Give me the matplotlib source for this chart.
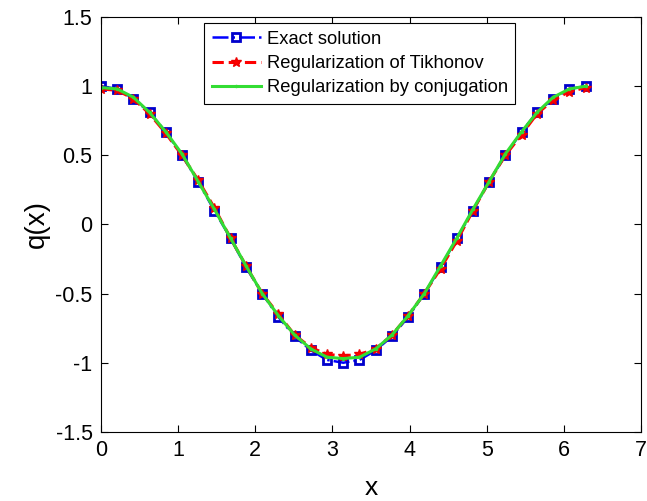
import matplotlib
matplotlib.use("Agg")
import matplotlib.pyplot as plt

plt.rcParams['font.family'] = ['Liberation Sans', 'DejaVu Sans']

x = [0.00, 0.21, 0.42, 0.63, 0.84, 1.05, 1.26, 1.47, 1.68, 1.88, 2.09, 2.30, 2.51, 2.72, 2.93,
     3.14, 3.35, 3.56, 3.77, 3.98, 4.19, 4.40, 4.61, 4.82, 5.03, 5.24, 5.45, 5.65, 5.86, 6.07, 6.28]
exact = [1.00, 0.98, 0.91, 0.81, 0.67, 0.50, 0.31, 0.10, -0.10, -0.31, -0.50, -0.67, -0.81, -0.91, -0.98,
         -1.00, -0.98, -0.91, -0.81, -0.67, -0.50, -0.31, -0.10, 0.10, 0.31, 0.50, 0.67, 0.81, 0.91, 0.98, 1.00]
tikhonov = [0.98, 0.97, 0.91, 0.80, 0.66, 0.50, 0.32, 0.12, -0.10, -0.30, -0.50, -0.65, -0.80, -0.89, -0.94,
            -0.95, -0.94, -0.90, -0.80, -0.66, -0.50, -0.32, -0.12, 0.10, 0.31, 0.50, 0.65, 0.80, 0.90, 0.96, 0.99]
conjugation = [0.99, 0.98, 0.92, 0.81, 0.67, 0.51, 0.31, 0.11, -0.10, -0.30, -0.50, -0.66, -0.80, -0.90, -0.96,
               -0.97, -0.96, -0.90, -0.80, -0.66, -0.50, -0.30, -0.10, 0.11, 0.31, 0.51, 0.67, 0.81, 0.92, 0.98, 1.00]

fig = plt.figure(figsize=(6.47, 5.01), dpi=100)
ax = fig.add_axes([0.156, 0.138, 0.835, 0.828])

ax.plot(x, exact, color='#0000ff', linestyle='-.', linewidth=1.8, marker='s', markersize=5.5,
        markerfacecolor='none', markeredgecolor='#0000cc', markeredgewidth=2, label='Exact solution')
ax.plot(x, tikhonov, color='#ff0000', linestyle='--', linewidth=2.2, marker='*', markersize=7,
        markeredgecolor='#ee0000', label='Regularization of Tikhonov')
ax.plot(x, conjugation, color='#33dd33', linestyle='-', linewidth=2.2, marker='.', markersize=3,
        label='Regularization by conjugation')

ax.set_xlim(0, 7)
ax.set_ylim(-1.5, 1.5)
ax.set_xticks([0, 1, 2, 3, 4, 5, 6, 7])
ax.set_yticks([-1.5, -1, -0.5, 0, 0.5, 1, 1.5])
ax.set_yticklabels(['-1.5', '-1', '-0.5', '0', '0.5', '1', '1.5'])
ax.tick_params(direction='in', length=5, labelsize=15.5, top=True, right=True)
ax.tick_params(axis='x', pad=6)
ax.tick_params(axis='y', pad=6)
for s in ax.spines.values():
    s.set_linewidth(0.8)
ax.set_xlabel('x', fontsize=19, labelpad=11)
ax.set_ylabel('q(x)', fontsize=20, labelpad=4)

leg = ax.legend(loc='upper center', bbox_to_anchor=(0.479, 0.9855), fontsize=13.2, frameon=True,
                fancybox=False, edgecolor='black', framealpha=1, handlelength=2.7,
                borderpad=0.42, labelspacing=0.4, handletextpad=0.3, borderaxespad=0)
leg.get_frame().set_linewidth(0.8)

fig.savefig('out.png', dpi=100)
